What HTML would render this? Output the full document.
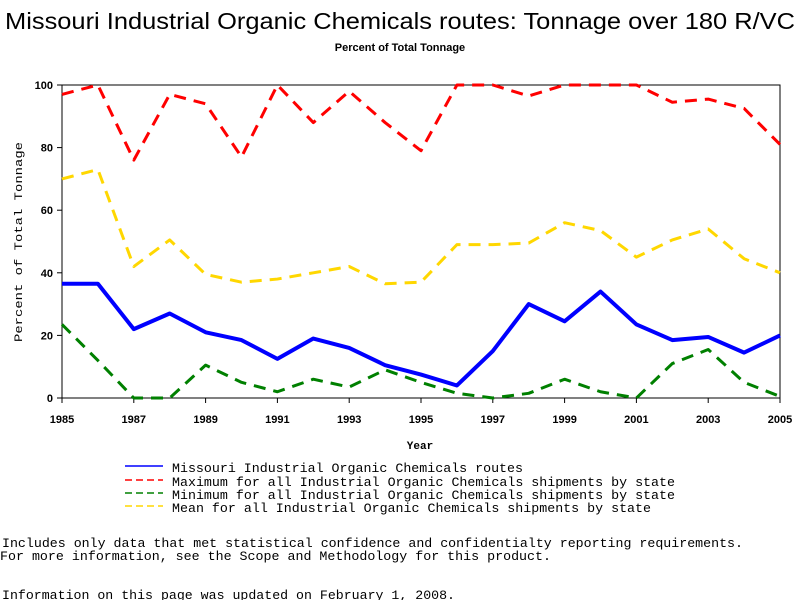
<!DOCTYPE html>
<html><head><meta charset="utf-8"><style>
html,body{margin:0;padding:0;background:#fff;}
svg{display:block;}
</style></head><body>
<svg id="chart" width="800" height="600" xmlns="http://www.w3.org/2000/svg" font-family="Liberation Sans, sans-serif">
<text x="400" y="29" text-anchor="middle" font-size="23" textLength="790" lengthAdjust="spacingAndGlyphs">Missouri Industrial Organic Chemicals routes: Tonnage over 180 R/VC</text>
<text x="400" y="51" text-anchor="middle" font-size="11" font-weight="bold">Percent of Total Tonnage</text>
<rect x="62" y="85" width="718" height="313" fill="none" stroke="#000" stroke-width="1"/>
<g id="yaxis"></g>
<g id="xaxis"></g>
<g id="series"></g>
<text transform="translate(22,242) rotate(-90)" text-anchor="middle" font-family="Liberation Mono, monospace" font-size="11" textLength="200" lengthAdjust="spacingAndGlyphs">Percent of Total Tonnage</text>
<text x="420" y="449" text-anchor="middle" font-family="Liberation Mono, monospace" font-size="11" font-weight="bold">Year</text>
<g font-family="Liberation Mono, monospace" font-size="13">
<line x1="125" y1="466" x2="163" y2="466" stroke="#0000ff" stroke-width="1.5"/>
<text x="172" y="472" textLength="351" lengthAdjust="spacingAndGlyphs">Missouri Industrial Organic Chemicals routes</text>
<line x1="125" y1="480" x2="163" y2="480" stroke="#ff0000" stroke-dasharray="7,4" stroke-width="1.5"/>
<text x="172" y="486" textLength="503" lengthAdjust="spacingAndGlyphs">Maximum for all Industrial Organic Chemicals shipments by state</text>
<line x1="125" y1="493" x2="163" y2="493" stroke="#008000" stroke-dasharray="7,4" stroke-width="1.5"/>
<text x="172" y="499" textLength="503" lengthAdjust="spacingAndGlyphs">Minimum for all Industrial Organic Chemicals shipments by state</text>
<line x1="125" y1="506" x2="163" y2="506" stroke="#ffd700" stroke-dasharray="7,4" stroke-width="1.5"/>
<text x="172" y="512" textLength="479" lengthAdjust="spacingAndGlyphs">Mean for all Industrial Organic Chemicals shipments by state</text>
</g>
<g font-family="Liberation Mono, monospace" font-size="13">
<text x="2" y="547" textLength="741" lengthAdjust="spacingAndGlyphs">Includes only data that met statistical confidence and confidentialty reporting requirements.</text>
<text x="0" y="560" textLength="551" lengthAdjust="spacingAndGlyphs">For more information, see the Scope and Methodology for this product.</text>
<text x="2" y="599" textLength="453" lengthAdjust="spacingAndGlyphs">Information on this page was updated on February 1, 2008.</text>
</g>
</svg>
<script>
const years = [1985,1986,1987,1988,1989,1990,1991,1992,1993,1994,1995,1996,1997,1998,1999,2000,2001,2002,2003,2004,2005];
const missouri = [36.5,36.5,22,27,21,18.5,12.5,19,16,10.5,7.5,4,15,30,24.5,34,23.5,18.5,19.5,14.5,20];
const maximum = [97,100,76,97,94,77,100,88,98,88,79,100,100,96.5,100,100,100,94.5,95.5,92.5,81];
const minimum = [23.5,12,0,0,10.5,5,2,6,3.5,9,5,1.5,0,1.5,6,2,0,11,15.5,5,0.5];
const mean = [70,73,42,50.5,39.5,37,38,40,42,36.5,37,49,49,49.5,56,53.5,45,50.5,54,44.5,40];
const yTicks = [0,20,40,60,80,100];
const xTicks = [1985,1987,1989,1991,1993,1995,1997,1999,2001,2003,2005];

const NS = 'http://www.w3.org/2000/svg';
const X0=62, X1=780, Y0=398, Y1=85;
function xs(v){return X0+(v-1985)/(2005-1985)*(X1-X0);}
function ys(v){return Y0-(v/100)*(Y0-Y1);}
function mk(tag, attrs, parent){const e=document.createElementNS(NS,tag);for(const k in attrs)e.setAttribute(k,attrs[k]);parent.appendChild(e);return e;}

const ya=document.getElementById('yaxis');
yTicks.forEach(t=>{
  const l=mk('line',{x1:X0-5,x2:X0,y1:ys(t),y2:ys(t),stroke:'#000'},ya);
  
  
  const tx=mk('text',{x:X0-9,y:ys(t)+4,'text-anchor':'end','font-size':'11','font-weight':'bold'},ya);
  
  
  tx.textContent=t;
});
const xa=document.getElementById('xaxis');
xTicks.forEach(t=>{
  const l=mk('line',{x1:xs(t),x2:xs(t),y1:Y0,y2:Y0+5,stroke:'#000'},xa);
  
  
  const tx=mk('text',{x:xs(t),y:Y0+25,'text-anchor':'middle','font-size':'11','font-weight':'bold'},xa);
  
  
  tx.textContent=t;
});
const sg=document.getElementById('series');
function draw(vals,color,width,dash,name){
  const pts=vals.map((v,i)=>xs(years[i])+','+ys(v)).join(' ');
  const a={points:pts,fill:'none',stroke:color,'stroke-width':width,'stroke-linejoin':'round'};
  if(dash)a['stroke-dasharray']=dash;
  const p=mk('polyline',a,sg);
  
  
}
draw(maximum,'#ff0000',3,'12,8','line-maximum');
draw(mean,'#ffd700',3,'12,8','line-mean');
draw(minimum,'#008000',3,'12,8','line-minimum');
draw(missouri,'#0000ff',4,null,'line-missouri');
</script>
</body></html>
